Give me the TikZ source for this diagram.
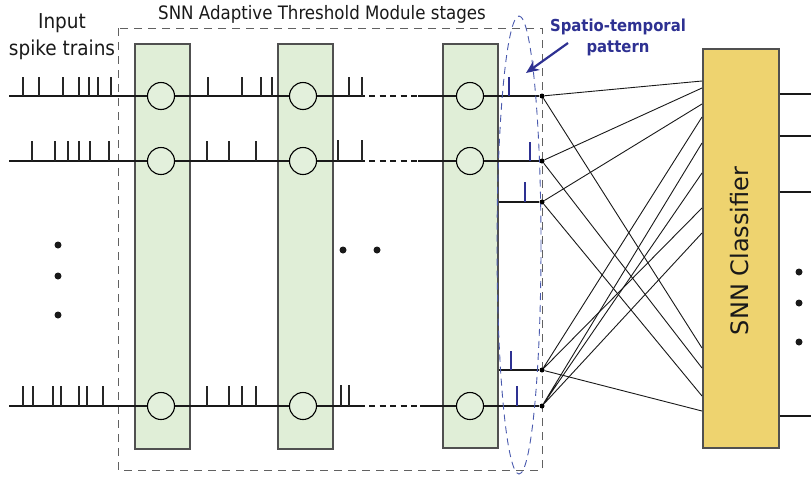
\documentclass[tikz,border=0pt]{standalone}
\usepackage{fontspec}
\setmainfont{DejaVu Sans}
\newfontfamily\condfont{DejaVu Sans Condensed}
\usetikzlibrary{arrows.meta}
\definecolor{stagegreen}{HTML}{E0EED7}
\definecolor{neurongreen}{HTML}{E3F0DC}
\definecolor{boxgray}{HTML}{505050}
\definecolor{clsyellow}{HTML}{EED36F}
\definecolor{spikeblue}{HTML}{2E3192}
\definecolor{ringblue}{HTML}{4A5AAE}
\tikzset{
  stagebox/.style={draw=boxgray, line width=1.5pt, fill=stagegreen, inner sep=0pt,
                   minimum width=55pt, minimum height=405pt, anchor=north west},
  neuron/.style={circle, draw=black, line width=1.1pt, fill=neurongreen,
                 minimum size=27pt, inner sep=0pt},
  wire/.style={line width=1.2pt, draw=black!90},
  gapwire/.style={line width=1.2pt, draw=black!90,
                  dash pattern=on 1.5pt off 4.5pt on 6pt off 4.5pt on 6pt off 4.5pt on 6pt off 4.5pt on 6pt off 4.5pt on 6pt off 20pt},
  spk/.style={line width=1.2pt, draw=black!85},
  bspk/.style={line width=2pt, draw=spikeblue},
  syn/.style={line width=0.9pt, draw=black!90},
  jdot/.style={circle, fill=black, inner sep=0pt, minimum size=5pt},
  bigdot/.style={circle, fill=black!90, inner sep=0pt, minimum size=7pt},
  outwire/.style={line width=2pt, draw=black!90},
  lab/.style={font=\condfont, text=black!90, inner sep=0pt},
}
\newcommand{\spiketrain}[3]{\foreach \sx in {#3} \draw[spk] (\sx,#1) -- ++(0,-#2);}
\begin{document}
\begin{tikzpicture}[x=1pt,y=-1pt]
\useasboundingbox (0,0) rectangle (811,477);

% dashed frame round the adaptive threshold stages
\draw[boxgray!90, line width=1pt, dash pattern=on 8pt off 6pt] (118,28) rectangle (542,470);
\node[lab, font=\condfont\fontsize{18.5}{20}\selectfont] (title) at (322,14) {SNN Adaptive Threshold Module stages};
\node[lab, font=\condfont\fontsize{20.5}{27}\selectfont, align=center] (inlab) at (62,37) {Input\\spike trains};

% stage columns
\node[stagebox] (st1) at (134,43) {};
\node[stagebox] (st2) at (277,43) {};
\node[stagebox, minimum height=404pt] (st3) at (442,43) {};

% neurons
\foreach \r/\y in {1/96,2/161,5/406}{
  \node[neuron] (a\r) at (161,\y) {};
  \node[neuron] (b\r) at (303,\y) {};
  \node[neuron] (c\r) at (470,\y) {};
}

% junctions of the output pattern
\node[jdot] (j1) at (542,96) {};
\node[jdot] (j2) at (542,161) {};
\node[jdot] (j3) at (542,202) {};
\node[jdot] (j4) at (542,370) {};
\node[jdot] (j5) at (542,406) {};

% spike train wires
\coordinate (s1) at (9,96);   \coordinate (g1) at (363,96);  \coordinate (h1) at (418,96);
\coordinate (s2) at (9,161);  \coordinate (g2) at (363,161); \coordinate (h2) at (418,161);
\coordinate (s5) at (9,406);  \coordinate (g5) at (363,406); \coordinate (h5) at (420,406);
\foreach \r in {1,2,5}{
  \draw[wire] (s\r) -- (a\r.west) (a\r.east) -- (b\r.west) (b\r.east) -- (g\r)
              (h\r) -- (c\r.west) (c\r.east) -- (j\r);
  \draw[gapwire] (g\r) -- (h\r);
}
\draw[wire] (st3.east |- j3) -- (j3);
\draw[wire] (st3.east |- j4) -- (j4);

% spikes
\spiketrain{96}{19}{23,39,63,79,89,98,111}
\spiketrain{96}{19}{208,242,261,272}
\spiketrain{96}{19}{349,362}
\spiketrain{161}{20}{32,55,68,79,90,109}
\spiketrain{161}{20}{207,229,256}
\spiketrain{161}{21}{338,362}
\spiketrain{406}{20}{23,33,53,61,79,87,103}
\spiketrain{406}{20}{207,229,242,256}
\spiketrain{406}{21}{341,349}

% output spatio-temporal pattern
\draw[bspk] (509,96) -- ++(0,-19);
\draw[bspk] (530,161) -- ++(0,-19);
\draw[bspk] (525,202) -- ++(0,-20);
\draw[bspk] (511,370) -- ++(0,-19);
\draw[bspk] (517,406) -- ++(0,-20);
\draw[ringblue, line width=0.9pt, dash pattern=on 7pt off 5pt] (519,245) ellipse [x radius=22, y radius=229];

\node[font=\condfont\bfseries\fontsize{16.5}{21}\selectfont, text=spikeblue, align=center, inner sep=0pt] (plab) at (618,37) {Spatio-temporal\\pattern};
\coordinate (atip) at (526,73);
\draw[spikeblue, line width=2.2pt, -{Stealth[length=13pt,width=11pt]}] (568,43) -- (atip);

% classifier
\node[draw=boxgray, fill=clsyellow, line width=1.5pt, inner sep=0pt,
      minimum width=76pt, minimum height=399pt, anchor=north west] (cls) at (702,48) {};
\node[font=\fontsize{24}{28}\selectfont, text=black!90, inner sep=0pt, rotate=90] (clab) at (740,251) {SNN Classifier};

\foreach \k/\y in {1/81,2/88,3/104,4/117,5/143,6/173,7/208,8/233,9/348,10/368,11/396,12/411}
  \coordinate (k\k) at (702,\y);
\draw[syn] (j1) -- (k1) (j1) -- (k9);
\draw[syn] (j2) -- (k2) (j2) -- (k10);
\draw[syn] (j3) -- (k3) (j3) -- (k11);
\draw[syn] (j4) -- (k4) (j4) -- (k7) (j4) -- (k12);
\draw[syn] (j5) -- (k5) (j5) -- (k6) (j5) -- (k8);

% classifier outputs
\foreach \o/\y in {1/94,2/136,3/192,4/416}{
  \coordinate (o\o) at (811,\y);
  \draw[outwire] (cls.east |- o\o) -- (o\o);
}

% ellipsis dots
\node[bigdot] (d1) at (58,245) {};
\node[bigdot] (d2) at (58,276) {};
\node[bigdot] (d3) at (58,315) {};
\node[bigdot] (d4) at (343,250) {};
\node[bigdot] (d5) at (377,250) {};
\node[bigdot] (d6) at (799,272) {};
\node[bigdot] (d7) at (799,303) {};
\node[bigdot] (d8) at (799,342) {};
\end{tikzpicture}
\end{document}
